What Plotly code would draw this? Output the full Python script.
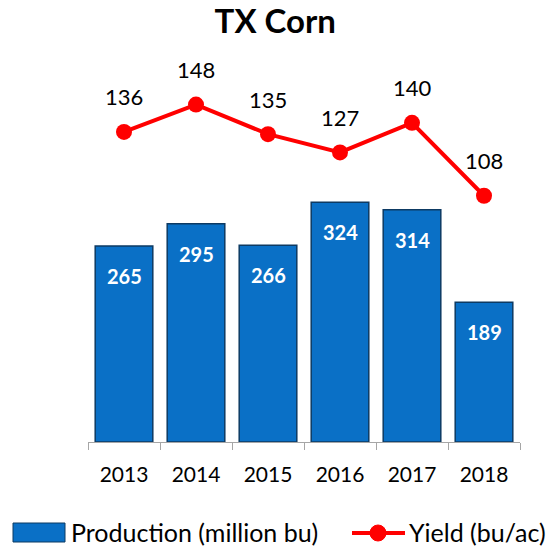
import plotly.graph_objects as go

years = ["2013", "2014", "2015", "2016", "2017", "2018"]
production = [265, 295, 266, 324, 314, 189]
yield_vals = [136, 148, 135, 127, 140, 108]
legend_names = ["Production (million bu)", "Yield (bu/ac)"]

FONT = "Lato, 'Open Sans', sans-serif"
BAR_COLOR = "#0A70C6"
BAR_EDGE = "#0D3A63"
LINE_COLOR = "#FF0000"

W, H = 555, 546
ML, MR, MT, MB = 88, 35, 40, 104
PW, PH = W - ML - MR, H - MT - MB


def px_x(p):
    return (p - ML) / PW


def px_y(p):
    return (H - MB - p) / PH


fig = go.Figure()
fig.add_trace(go.Bar(
    x=years, y=production, name=legend_names[0],
    marker=dict(color=BAR_COLOR, line=dict(color=BAR_EDGE, width=1.5)),
    width=0.8, yaxis="y", hoverinfo="skip", showlegend=False,
))
fig.add_trace(go.Scatter(
    x=years, y=yield_vals, name=legend_names[1], mode="lines+markers",
    line=dict(color=LINE_COLOR, width=4),
    marker=dict(color=LINE_COLOR, size=16),
    yaxis="y2", showlegend=False,
))

annotations = []
for i, v in enumerate(production):
    annotations.append(dict(x=i, y=v, xref="x", yref="y", text=f"<b>{v}</b>",
                            showarrow=False, yshift=-30,
                            font=dict(family=FONT, size=20, color="white")))
for i, v in enumerate(yield_vals):
    annotations.append(dict(x=i, y=v, xref="x", yref="y2", text=str(v),
                            showarrow=False, yshift=35,
                            font=dict(family=FONT, size=22, color="black")))

# custom legend (wide glyphs as in the reference)
shapes = [
    dict(type="rect", xref="paper", yref="paper",
         x0=px_x(13), x1=px_x(65), y0=px_y(542), y1=px_y(523),
         fillcolor=BAR_COLOR, line=dict(color=BAR_EDGE, width=1)),
    dict(type="line", xref="paper", yref="paper",
         x0=px_x(352), x1=px_x(405), y0=px_y(533), y1=px_y(533),
         line=dict(color=LINE_COLOR, width=4)),
    dict(type="circle", xref="paper", yref="paper",
         x0=px_x(370), x1=px_x(386), y0=px_y(541), y1=px_y(525),
         fillcolor=LINE_COLOR, line=dict(color=LINE_COLOR, width=1)),
]
annotations.append(dict(x=px_x(69), y=px_y(532), xref="paper", yref="paper",
                        text=legend_names[0], showarrow=False, xanchor="left", yanchor="middle",
                        font=dict(family=FONT, size=25, color="black")))
annotations.append(dict(x=px_x(407), y=px_y(532), xref="paper", yref="paper",
                        text=legend_names[1], showarrow=False, xanchor="left", yanchor="middle",
                        font=dict(family=FONT, size=25, color="black")))

fig.update_layout(
    width=W, height=H,
    margin=dict(l=ML, r=MR, t=MT, b=MB),
    paper_bgcolor="white", plot_bgcolor="white",
    title=dict(text="<b>TX Corn</b>", x=0.496, xanchor="center", y=1 - 21 / H, yanchor="middle",
               font=dict(family=FONT, size=33, color="black")),
    xaxis=dict(type="category", range=[-0.5, len(years) - 0.5],
               showline=True, linecolor="#A6A6A6", linewidth=1,
               ticks="outside", tickson="boundaries", ticklen=7, tickcolor="#A6A6A6",
               ticklabelstandoff=14,
               tickfont=dict(family=FONT, size=21, color="black"), showgrid=False),
    yaxis=dict(range=[0, PH / 0.74], visible=False, showgrid=False, fixedrange=True),
    yaxis2=dict(range=[0, PH / 2.28], overlaying="y", side="right", visible=False, showgrid=False),
    showlegend=False,
    bargap=0.2,
    shapes=shapes,
    annotations=annotations,
)

fig.write_html("out.html", post_script="document.body.style.margin='0';",
               config={"displayModeBar": False})
